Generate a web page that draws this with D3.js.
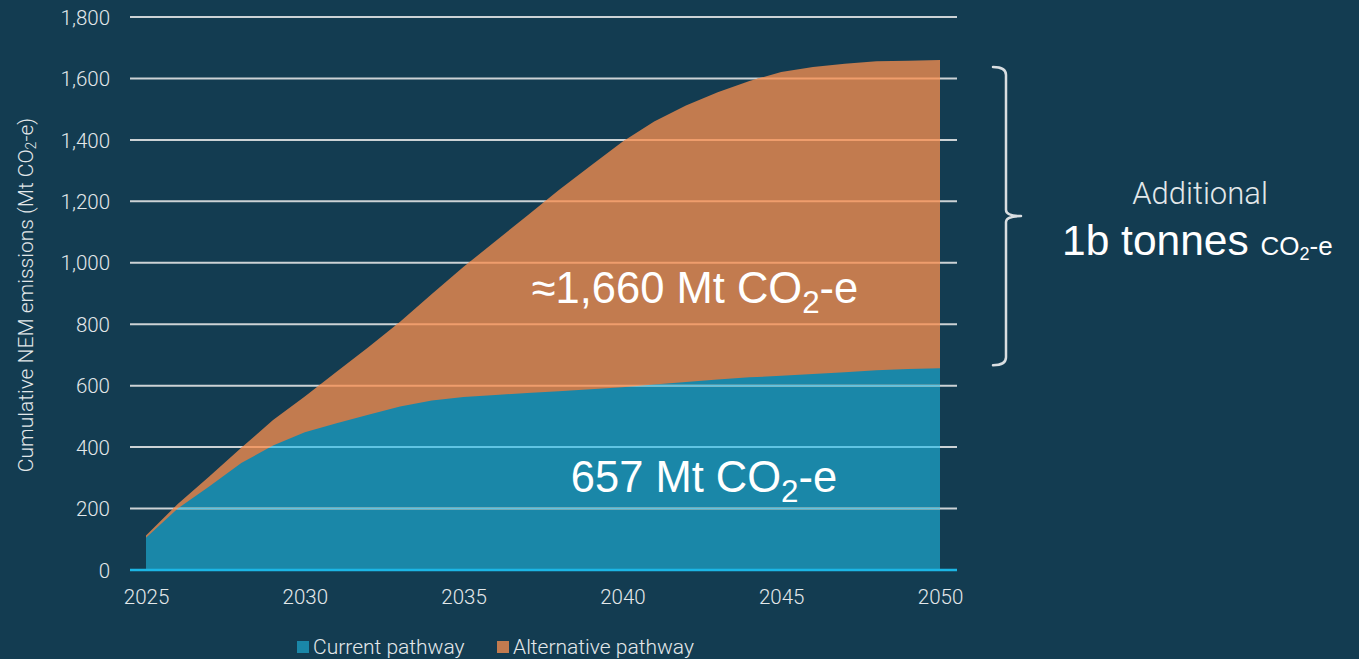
<!DOCTYPE html>
<html>
<head>
<meta charset="utf-8">
<script src="https://cdn.jsdelivr.net/npm/d3@7"></script>
<style>
  html, body { margin: 0; padding: 0; background: #133c51; }
  svg { display: block; }
</style>
</head>
<body>
<svg id="chart" width="1359" height="659"></svg>
<script>
// Cumulative NEM emissions, Mt CO2-e
const years = d3.range(2025, 2051);
const currentPathway = [105, 200, 273, 348, 405, 448, 478, 505, 532, 552, 563, 570, 576, 582, 588, 595, 604, 612, 620, 627, 632, 638, 644, 650, 654, 657];
const alternativePathway = [112, 215, 305, 398, 488, 565, 645, 725, 808, 898, 987, 1070, 1153, 1237, 1316, 1394, 1460, 1512, 1555, 1592, 1621, 1637, 1648, 1656, 1658, 1660];
const yTicks = [0, 200, 400, 600, 800, 1000, 1200, 1400, 1600, 1800];
const xTicks = [2025, 2030, 2035, 2040, 2045, 2050];
const seriesNames = ["Current pathway", "Alternative pathway"];
const yAxisTitle = "Cumulative NEM emissions (Mt CO";
const currentLabel = "657";
const alternativeLabel = "≈1,660";

const colors = {
  bg: "#133c51",
  current: "#1a87a8",
  alternative: "#c27b4f",
  grid: "#ccd2d5",
  gridOnCurrent: "#5fc4e3",
  gridOnAlternative: "#ef9d6c",
  baseline: "#1cb6e5",
  text: "#e3e8ea"
};

const lightFont = "Roboto, 'Liberation Sans', Arial, sans-serif";
const mainFont = "'Liberation Sans', Arial, Helvetica, sans-serif";

const svg = d3.select("#chart");
const x = d3.scaleLinear().domain([2025, 2050]).range([146, 940]);
const y = d3.scaleLinear().domain([0, 1800]).range([570, 17]);
const gridX0 = 130, gridX1 = 957;

const data = years.map((yr, i) => ({ year: yr, current: currentPathway[i], alternative: alternativePathway[i] }));

const altArea = d3.area().x(d => x(d.year)).y0(y(0)).y1(d => y(d.alternative));
const curArea = d3.area().x(d => x(d.year)).y0(y(0)).y1(d => y(d.current));

const defs = svg.append("defs");
defs.append("clipPath").attr("id", "clip-alt").append("path").attr("d", altArea(data));
defs.append("clipPath").attr("id", "clip-cur").append("path").attr("d", curArea(data));

const gridValues = yTicks.filter(v => v > 0);
function drawGrid(parent, color) {
  parent.selectAll("line")
    .data(gridValues)
    .join("line")
    .attr("x1", gridX0).attr("x2", gridX1)
    .attr("y1", d => y(d)).attr("y2", d => y(d))
    .attr("stroke", color)
    .attr("stroke-width", 2);
}

// gridlines behind the areas
drawGrid(svg.append("g"), colors.grid);

// areas
svg.append("path").attr("d", altArea(data)).attr("fill", colors.alternative);
svg.append("path").attr("d", curArea(data)).attr("fill", colors.current);

// gridlines tinted where they cross each area
drawGrid(svg.append("g").attr("clip-path", "url(#clip-alt)"), colors.gridOnAlternative);
drawGrid(svg.append("g").attr("clip-path", "url(#clip-cur)"), colors.gridOnCurrent);

// zero line
svg.append("line")
  .attr("x1", gridX0).attr("x2", gridX1)
  .attr("y1", y(0)).attr("y2", y(0))
  .attr("stroke", colors.baseline).attr("stroke-width", 2.5);

// y axis labels
const yAxis = d3.axisLeft(y).tickValues(yTicks).tickFormat(d3.format(",")).tickSize(0).tickPadding(0);
const gy = svg.append("g").attr("transform", "translate(110,0)").call(yAxis);
gy.select(".domain").remove();
gy.selectAll("text")
  .attr("fill", colors.text)
  .attr("font-family", lightFont)
  .attr("font-weight", 300)
  .attr("font-size", 20.5)
  .attr("dy", "0.35em");

// x axis labels
const xAxis = d3.axisBottom(x).tickValues(xTicks).tickFormat(d3.format("d")).tickSize(0).tickPadding(0);
const gx = svg.append("g").attr("transform", "translate(0,589)").call(xAxis);
gx.select(".domain").remove();
gx.selectAll("text")
  .attr("fill", colors.text)
  .attr("font-family", lightFont)
  .attr("font-weight", 300)
  .attr("font-size", 20.5)
  .attr("dy", "0.75em");

// y axis title
const yt = svg.append("text")
  .attr("transform", "translate(33,295) rotate(-90)")
  .attr("text-anchor", "middle")
  .attr("fill", colors.text)
  .attr("font-family", lightFont)
  .attr("font-weight", 300)
  .attr("font-size", 21);
yt.append("tspan").text(yAxisTitle);
yt.append("tspan").attr("font-size", 14).attr("dy", 3).text("2");
yt.append("tspan").attr("dy", -3).text("-e)");

// value labels inside areas
function co2Label(xPos, yPos, value, size, anchor) {
  const t = svg.append("text")
    .attr("x", xPos).attr("y", yPos)
    .attr("text-anchor", anchor)
    .attr("fill", "#ffffff")
    .attr("font-family", mainFont)
    .attr("font-size", size);
  t.append("tspan").text(value + " Mt CO");
  t.append("tspan").attr("font-size", size * 0.72).attr("dy", size * 0.24).text("2");
  t.append("tspan").attr("dy", -size * 0.24).text("-e");
  return t;
}
co2Label(695, 303, alternativeLabel, 43.5, "middle");
co2Label(704, 492, currentLabel, 43.5, "middle");

// brace marking the difference between the pathways
const bx = 1006, bTop = y(1660) + 7, bBot = y(657) - 3, bMid = (bTop + bBot) / 2;
const brace = d3.path();
brace.moveTo(bx - 13, bTop);
brace.quadraticCurveTo(bx, bTop, bx, bTop + 8);
brace.lineTo(bx, bMid - 6);
brace.quadraticCurveTo(bx, bMid, bx + 15, bMid);
brace.moveTo(bx + 15, bMid);
brace.quadraticCurveTo(bx, bMid, bx, bMid + 6);
brace.lineTo(bx, bBot - 8);
brace.quadraticCurveTo(bx, bBot, bx - 13, bBot);
svg.append("path")
  .attr("d", brace.toString())
  .attr("fill", "none")
  .attr("stroke", "#d9dee1")
  .attr("stroke-width", 2.5)
  .attr("stroke-linecap", "round");

svg.append("text")
  .attr("x", 1200).attr("y", 204)
  .attr("text-anchor", "middle")
  .attr("fill", colors.text)
  .attr("font-family", lightFont)
  .attr("font-weight", 300)
  .attr("font-size", 31)
  .text("Additional");

const big = svg.append("text")
  .attr("x", 1062).attr("y", 255)
  .attr("fill", "#ffffff")
  .attr("font-family", mainFont)
  .attr("font-size", 42.5);
big.append("tspan").text("1b tonnes ");
big.append("tspan").attr("font-size", 26).text("CO");
big.append("tspan").attr("font-size", 18).attr("dy", 5).text("2");
big.append("tspan").attr("font-size", 26).attr("dy", -5).text("-e");

// legend
const legend = svg.append("g");
const legendItems = [
  { name: seriesNames[0], color: colors.current, x: 297 },
  { name: seriesNames[1], color: colors.alternative, x: 497 }
];
legendItems.forEach(item => {
  legend.append("rect")
    .attr("x", item.x).attr("y", 641)
    .attr("width", 12).attr("height", 12)
    .attr("fill", item.color);
  legend.append("text")
    .attr("x", item.x + 16).attr("y", 654)
    .attr("fill", colors.text)
    .attr("font-family", lightFont)
    .attr("font-weight", 300)
    .attr("font-size", 21)
    .text(item.name);
});
</script>
</body>
</html>
